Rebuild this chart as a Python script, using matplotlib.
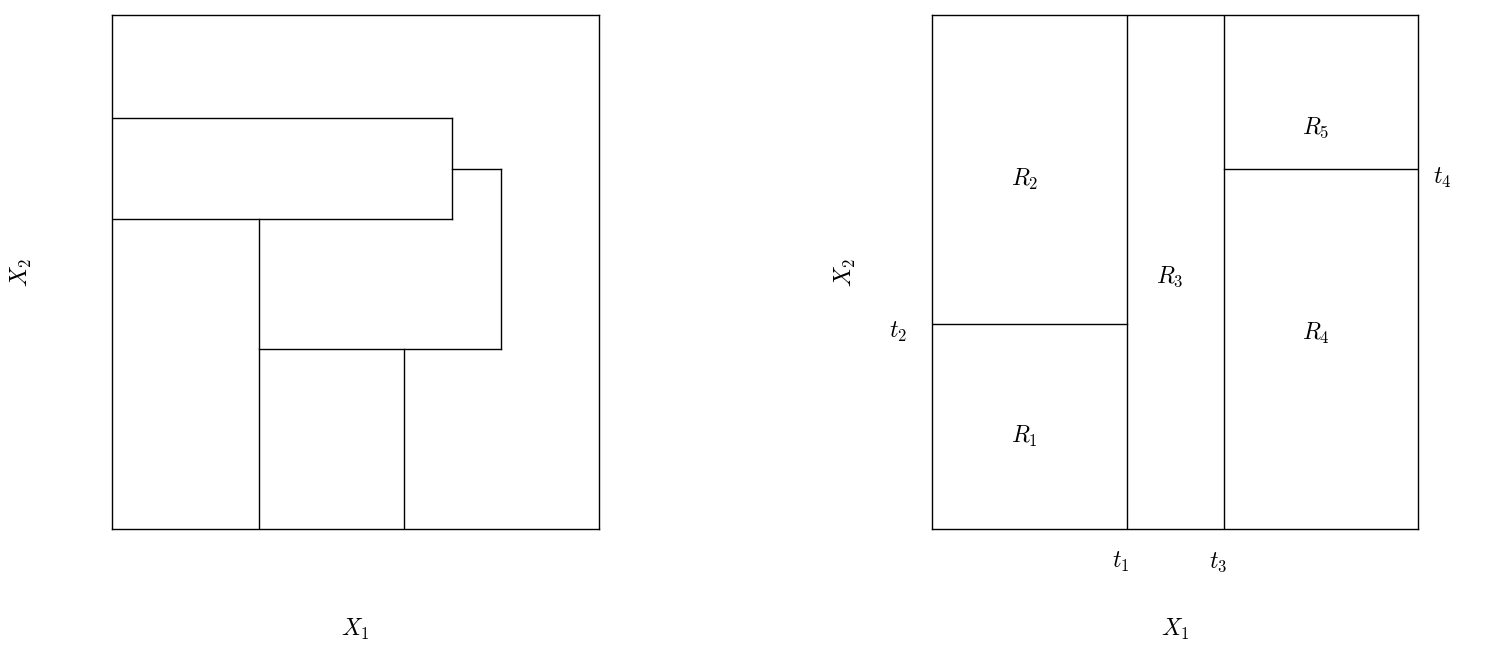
import matplotlib
matplotlib.use("Agg")
import matplotlib.pyplot as plt

plt.rcParams['mathtext.fontset'] = 'cm'

# Left panel: segments (x0, x1, y0, y1)
left_segments = [
    (0.0, 0.698, 0.80, 0.80), (0.0, 0.698, 0.603, 0.603), (0.698, 0.698, 0.603, 0.80),
    (0.698, 0.799, 0.70, 0.70), (0.799, 0.799, 0.35, 0.70), (0.302, 0.799, 0.35, 0.35),
    (0.302, 0.302, 0.0, 0.603), (0.60, 0.60, 0.0, 0.35),
]
# Right panel split points
t1, t2, t3, t4 = 0.401, 0.399, 0.601, 0.70
region_labels = ['$R_1$', '$R_2$', '$R_3$', '$R_4$', '$R_5$']
region_x = [0.19, 0.19, 0.49, 0.79, 0.79]
region_y = [0.18, 0.68, 0.49, 0.38, 0.78]

fig = plt.figure(figsize=(15.06, 6.56), dpi=100)
axL = fig.add_axes([0.0744, 0.1936, 0.3234, 0.7835])
axR = fig.add_axes([0.6189, 0.1936, 0.3227, 0.7835])
for ax, ylx in ((axL, -0.185), (axR, -0.179)):
    ax.set_xlim(0, 1); ax.set_ylim(0, 1)
    ax.set_xticks([]); ax.set_yticks([])
    for s in ax.spines.values():
        s.set_linewidth(1.0)
    ax.text(0.5, -0.196, '$X_1$', fontsize=17, ha='center', va='center', transform=ax.transAxes)
    ax.text(ylx, 0.5, '$X_2$', fontsize=17, ha='center', va='center', rotation=90, transform=ax.transAxes)

for x0, x1, y0, y1 in left_segments:
    axL.plot([x0, x1], [y0, y1], color='black', lw=1.0)

axR.plot([0, t1], [t2, t2], color='black', lw=1.0)
axR.plot([t1, t1], [0, 1], color='black', lw=1.0)
axR.plot([t3, t3], [0, 1], color='black', lw=1.0)
axR.plot([t3, 1], [t4, t4], color='black', lw=1.0)
for lab, x, y in zip(region_labels, region_x, region_y):
    axR.text(x, y, lab, fontsize=17, ha='center', va='center')
axR.text(t1 - 0.012, -0.065, '$t_1$', fontsize=17, ha='center', va='center')
axR.text(t3 - 0.012, -0.065, '$t_3$', fontsize=17, ha='center', va='center')
axR.text(-0.07, t2 - 0.015, '$t_2$', fontsize=17, ha='center', va='center')
axR.text(1.05, t4 - 0.018, '$t_4$', fontsize=17, ha='center', va='center')

fig.savefig('out.png', dpi=100)
